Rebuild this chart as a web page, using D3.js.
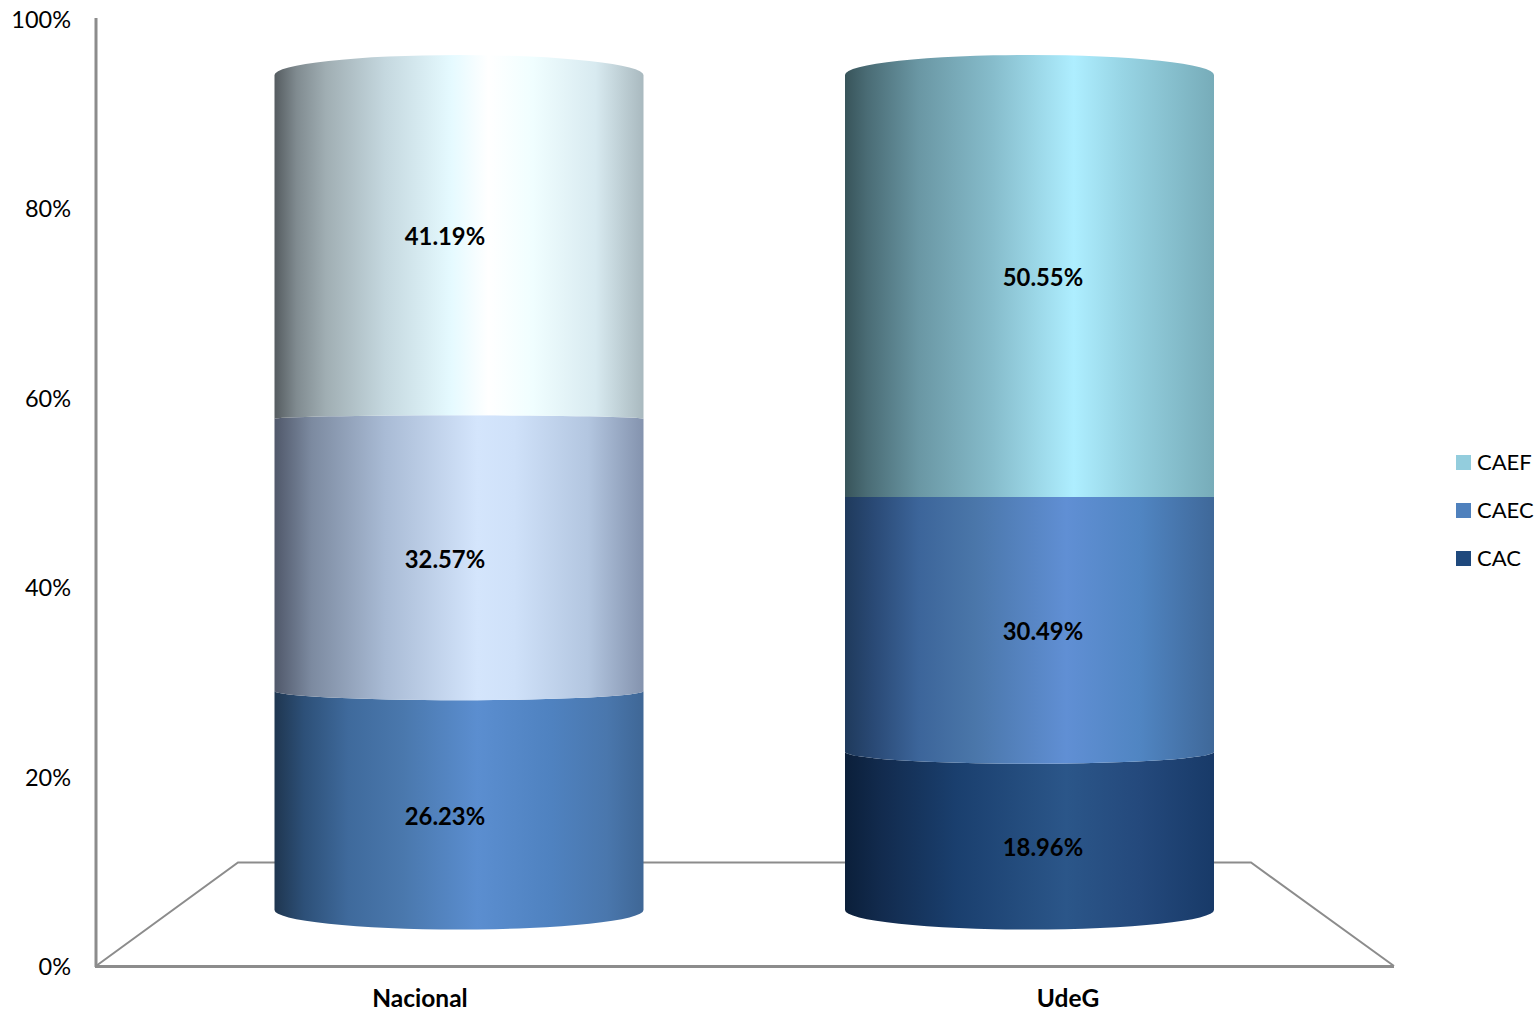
<!DOCTYPE html>
<html>
<head>
<meta charset="utf-8">
<script src="https://cdn.jsdelivr.net/npm/d3@7"></script>
<style>
body { margin: 0; background: #fff; }
text { font-family: Lato, Carlito, sans-serif; fill: #000; }
</style>
</head>
<body>
<div class="container"></div>
<script>
var w = 1540, h = 1012;

// data
var categories = ['Nacional', 'UdeG'];
var seriesNames = ['CAC', 'CAEC', 'CAEF'];
var cac = [26.23, 18.96];
var caec = [32.57, 30.49];
var caef = [41.19, 50.55];
var ticks = [0, 20, 40, 60, 80, 100];
var legendNames = ['CAEF', 'CAEC', 'CAC'];

var rows = categories.map((c, i) => ({ name: c, CAC: cac[i], CAEC: caec[i], CAEF: caef[i] }));
var stacked = d3.stack().keys(seriesNames)(rows);

// gradient stops for every cell, [offset, colour], bottom segment first
var shades = {
    Nacional: {
        CAC: [[0, '#1f3650'], [.08, '#2d5078'], [.2, '#3f6a9c'], [.35, '#4a78ad'], [.55, '#5b8ed0'], [.75, '#4f82c0'], [.9, '#4a77ad'], [1, '#3f6796']],
        CAEC: [[0, '#50586a'], [.1, '#7c8aa0'], [.3, '#a9bbd5'], [.55, '#d4e5fc'], [.65, '#cfe1f9'], [.85, '#b3c6e0'], [1, '#8493ae']],
        CAEF: [[0, '#555c60'], [.06, '#808b90'], [.14, '#a0aeb3'], [.3, '#c5d8df'], [.48, '#e5faff'], [.58, '#ffffff'], [.7, '#f0feff'], [.87, '#d8eaf0'], [1, '#a9b9bf']]
    },
    UdeG: {
        CAC: [[0, '#0b1f3a'], [.1, '#122b4e'], [.3, '#1a3f6e'], [.6, '#2b5689'], [.8, '#24497c'], [1, '#183a68']],
        CAEC: [[0, '#1f3a5c'], [.08, '#2a4a76'], [.2, '#3c659a'], [.35, '#4a76a9'], [.6, '#608fd4'], [.8, '#5085c2'], [1, '#3f6899']],
        CAEF: [[0, '#38545a'], [.06, '#4a6c75'], [.2, '#6a97a4'], [.4, '#86bccb'], [.62, '#aeeeff'], [.75, '#98d5e5'], [1, '#77acb9']]
    }
};
var legendColor = d3.scaleOrdinal(legendNames, ['#93cddd', '#4f81bd', '#1f497d']);

var svg = d3.select('.container')
    .append('svg')
    .attr('width', w)
    .attr('height', h)
    .style('display', 'block');

var defs = svg.append('defs');

// scales
var yAxisScale = d3.scaleLinear().domain([0, 100]).range([967, 20]);
var yBar = d3.scaleLinear().domain([0, 100]).range([910, 75]);   // side of the cylinder
var yLabel = d3.scaleLinear().domain([0, 100]).range([931, 57]); // data labels
var xBar = d3.scalePoint().domain(categories).range([459, 1029.5]);
var xLabel = d3.scalePoint().domain(categories).range([445, 1043]);
var xCat = d3.scalePoint().domain(categories).range([420, 1068]);
var rx = 184.5;

// the rims flatten out towards the eye level at y = 498
function rimDepth(y) { return (y - 498) * 0.0475; }

function segmentPath(cx, y0, y1) {
    var r0 = rimDepth(y0), r1 = rimDepth(y1);
    return 'M' + (cx - rx) + ',' + y1
        + 'A' + rx + ',' + Math.abs(r1) + ' 0 0 ' + (r1 > 0 ? 0 : 1) + ' ' + (cx + rx) + ',' + y1
        + 'L' + (cx + rx) + ',' + y0
        + 'A' + rx + ',' + Math.abs(r0) + ' 0 0 ' + (r0 > 0 ? 1 : 0) + ' ' + (cx - rx) + ',' + y0
        + 'Z';
}

// floor
var floorLine = d3.line();
svg.append('path')
    .attr('d', floorLine([[96, 966], [238, 862.5], [1251, 862.5], [1394, 966]]))
    .attr('fill', 'none')
    .attr('stroke', '#8c8c8c')
    .attr('stroke-width', 2);

// axis
var yAxis = svg.append('g')
    .attr('transform', 'translate(96,0)')
    .call(d3.axisLeft(yAxisScale).tickValues(ticks).tickSize(0).tickPadding(25).tickFormat(d => d + '%'));
yAxis.select('.domain').remove();
yAxis.selectAll('text').style('font-size', '23.5px').style('font-family', 'Lato');

svg.append('line').attr('x1', 96).attr('x2', 96).attr('y1', 18).attr('y2', 967)
    .attr('stroke', '#8c8c8c').attr('stroke-width', 3);
svg.append('line').attr('x1', 95).attr('x2', 1394).attr('y1', 966.5).attr('y2', 966.5)
    .attr('stroke', '#8c8c8c').attr('stroke-width', 3);

// cylinders
stacked.forEach(layer => {
    layer.forEach((d, i) => {
        var cat = categories[i];
        var id = 'grad-' + cat + '-' + layer.key;
        var grad = defs.append('linearGradient').attr('id', id);
        grad.selectAll('stop')
            .data(shades[cat][layer.key])
            .enter()
            .append('stop')
            .attr('offset', s => s[0])
            .attr('stop-color', s => s[1]);

        svg.append('path')
            .attr('d', segmentPath(xBar(cat), yBar(d[0]), yBar(d[1])))
            .attr('fill', 'url(#' + id + ')');
    });
});

// data labels, on top of all segments
stacked.forEach(layer => {
    layer.forEach((d, i) => {
        svg.append('text')
            .attr('x', xLabel(categories[i]))
            .attr('y', yLabel((d[0] + d[1]) / 2))
            .attr('dy', '0.35em')
            .attr('text-anchor', 'middle')
            .style('font-size', '23.8px')
            .style('font-weight', 700)
            .text((d[1] - d[0]).toFixed(2) + '%');
    });
});

// category labels
svg.selectAll('.cat')
    .data(categories)
    .enter()
    .append('text')
    .attr('class', 'cat')
    .attr('x', d => xCat(d))
    .attr('y', 998)
    .attr('dy', '0.35em')
    .attr('text-anchor', 'middle')
    .style('font-size', '24.5px')
    .style('font-weight', 700)
    .text(d => d);

// legend
var yLegend = d3.scalePoint().domain(legendNames).range([462.5, 558.5]);
var legend = svg.selectAll('.leg')
    .data(legendNames)
    .enter()
    .append('g')
    .attr('class', 'leg')
    .attr('transform', d => 'translate(1456,' + yLegend(d) + ')');
legend.append('rect')
    .attr('y', -7.5)
    .attr('width', 15)
    .attr('height', 15)
    .attr('fill', d => legendColor(d));
legend.append('text')
    .attr('x', 21)
    .attr('dy', '0.35em')
    .style('font-size', '22px')
    .text(d => d);
</script>
</body>
</html>
